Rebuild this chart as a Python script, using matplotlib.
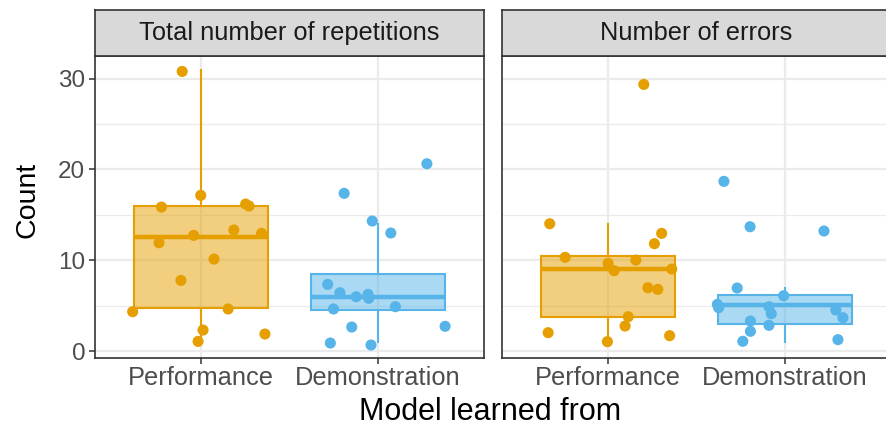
import matplotlib.pyplot as plt

plt.rcParams['font.family'] = ['Liberation Sans', 'DejaVu Sans']

groups = ["Performance", "Demonstration"]
facets = ["Total number of repetitions", "Number of errors"]
colors = ["#E69F00", "#56B4E9"]

# jittered points (x = category position incl. jitter)
rep_perf_x = [0.893, 0.998, 0.776, 1.252, 1.271, 0.958, 1.185, 1.342, 0.762, 1.073, 0.886, 0.613, 1.153, 1.011, 0.983, 1.361]
rep_perf_y = [30.8, 17.15, 15.86, 16.19, 15.97, 12.74, 13.33, 12.96, 11.93, 10.13, 7.78, 4.33, 4.63, 2.31, 1.06, 1.87]
rep_demo_x = [2.277, 1.809, 1.968, 2.073, 1.716, 1.785, 1.877, 1.944, 1.948, 1.749, 2.099, 1.852, 2.38, 1.731, 1.961]
rep_demo_y = [20.63, 17.37, 14.32, 13.0, 7.34, 6.42, 5.98, 6.24, 5.80, 4.63, 4.88, 2.64, 2.72, 0.88, 0.66]

err_perf_x = [1.202, 0.670, 1.303, 1.262, 0.757, 1.157, 1.0, 1.034, 1.36, 1.225, 1.281, 1.114, 1.096, 0.661, 1.348, 0.996]
err_perf_y = [29.37, 14.02, 12.96, 11.82, 10.32, 10.02, 9.66, 8.85, 9.03, 6.97, 6.79, 3.78, 2.75, 2.02, 1.69, 1.03]
err_demo_x = [1.655, 1.803, 2.221, 1.730, 1.993, 1.618, 1.625, 1.91, 1.923, 2.288, 2.328, 1.805, 1.91, 1.805, 1.762, 2.30]
err_demo_y = [18.69, 13.69, 13.22, 6.94, 6.09, 5.14, 4.77, 4.88, 4.11, 4.52, 3.67, 3.30, 2.83, 2.17, 1.07, 1.25]

# box statistics per facet: [Performance, Demonstration]
rep_lo = [1.0, 1.0]
rep_q1 = [4.77, 4.52]
rep_med = [12.52, 5.98]
rep_q3 = [16.0, 8.44]
rep_hi = [31.0, 14.0]

err_lo = [1.0, 1.0]
err_q1 = [3.78, 2.97]
err_med = [9.03, 5.03]
err_q3 = [10.46, 6.17]
err_hi = [14.0, 6.9]

fig = plt.figure(figsize=(8.87, 4.29), dpi=100)

W, H = 887, 429
panel_w = 389
panel_top, panel_bot = 56, 358
lefts = [95, 502]

facet_data = [
    ([(rep_perf_x, rep_perf_y), (rep_demo_x, rep_demo_y)], (rep_lo, rep_q1, rep_med, rep_q3, rep_hi)),
    ([(err_perf_x, err_perf_y), (err_demo_x, err_demo_y)], (err_lo, err_q1, err_med, err_q3, err_hi)),
]

for k, (pts, stats) in enumerate(facet_data):
    left = lefts[k]
    ax = fig.add_axes([left / W, (H - panel_bot) / H, panel_w / W, (panel_bot - panel_top) / H])
    lo, q1, med, q3, hi = stats
    for i in range(2):
        st = [dict(whislo=lo[i], q1=q1[i], med=med[i], q3=q3[i], whishi=hi[i], fliers=[])]
        c = colors[i]
        ax.bxp(st, positions=[i + 1], widths=0.76, patch_artist=True, showcaps=False,
               boxprops=dict(facecolor=c + "80", edgecolor=c, linewidth=1.5),
               whiskerprops=dict(color=c, linewidth=1.5),
               medianprops=dict(color=c, linewidth=3.2, solid_capstyle='butt'),
               zorder=3)
        ax.scatter(pts[i][0], pts[i][1], s=64, color=c, edgecolors='none', zorder=4)

    ax.set_xlim(0.4, 2.6)
    ax.set_ylim(-0.77, 32.5)
    ax.set_xticks([1, 2])
    ax.set_xticklabels(groups)
    ax.set_yticks([0, 10, 20, 30])
    ax.set_yticks([5, 15, 25], minor=True)
    ax.grid(True, which='major', color='#EBEBEB', linewidth=1.6, zorder=0)
    ax.grid(True, which='minor', axis='y', color='#EBEBEB', linewidth=0.9, zorder=0)
    ax.set_axisbelow(True)
    for sp in ax.spines.values():
        sp.set_color('#333333')
        sp.set_linewidth(1.2)
    ax.tick_params(axis='x', which='major', labelsize=18.3, pad=2)
    ax.tick_params(axis='y', which='major', labelsize=17.5, pad=3)
    ax.tick_params(axis='both', which='major', colors='#333333', labelcolor='#4D4D4D',
                   length=4, width=1.1)
    ax.tick_params(axis='y', which='minor', length=0)
    if k == 1:
        ax.tick_params(axis='y', which='major', left=False, labelleft=False)

    # facet strip
    sax = fig.add_axes([left / W, (H - panel_top) / H, panel_w / W, 46.5 / H])
    sax.set_facecolor('#D9D9D9')
    sax.set_xticks([])
    sax.set_yticks([])
    for sp in sax.spines.values():
        sp.set_color('#333333')
        sp.set_linewidth(1.2)
    sax.text(0.5, 0.5, facets[k], ha='center', va='center', fontsize=18.3,
             color='#1A1A1A', transform=sax.transAxes)

fig.text(28 / W, (H - 200) / H, "Count", ha='center', va='center', rotation=90, fontsize=20.5)
fig.text(490 / W, (H - 412) / H, "Model learned from", ha='center', va='center', fontsize=22)

plt.savefig('out.png', dpi=100)
plt.close(fig)
